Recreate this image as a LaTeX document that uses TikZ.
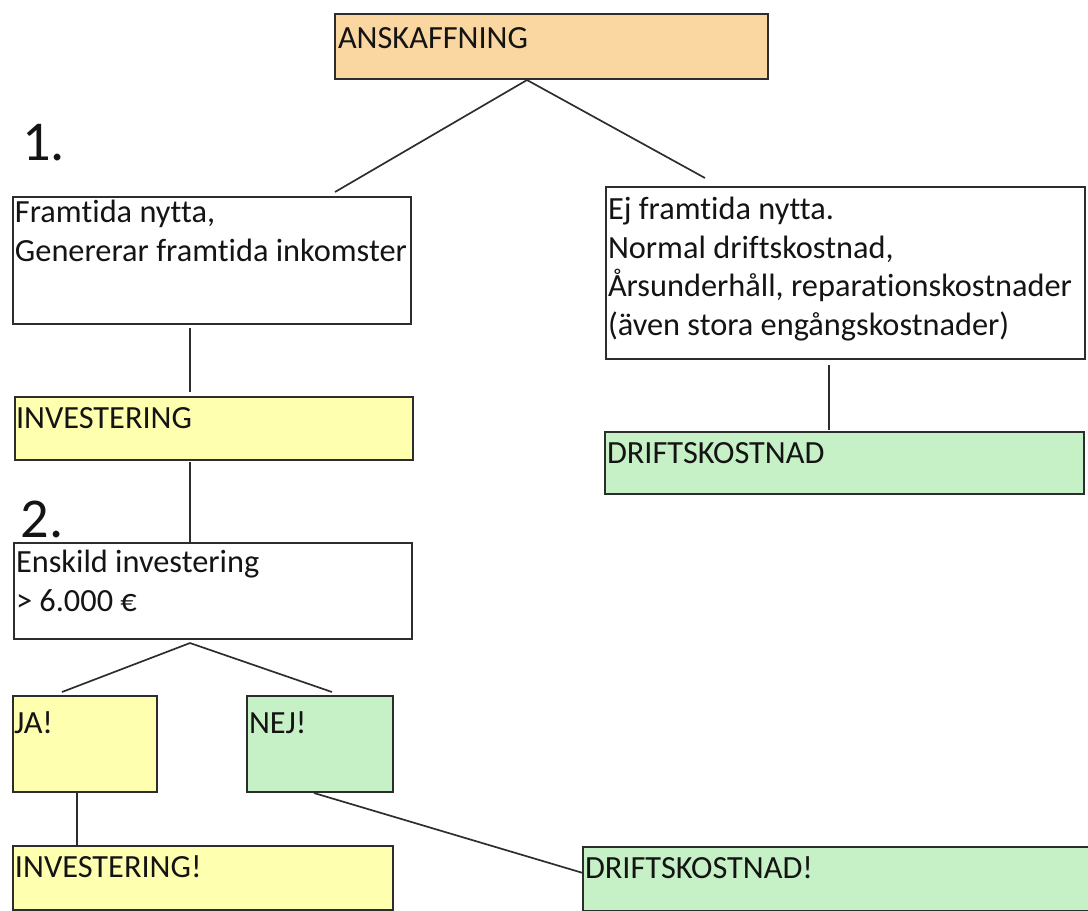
\documentclass[tikz,border=0pt]{standalone}
\usepackage{fontspec}
\setmainfont{Carlito}[Ligatures=NoCommon]
\usetikzlibrary{calc}
\definecolor{boxline}{RGB}{45,45,45}
\definecolor{orangefill}{RGB}{250,214,160}
\definecolor{yellowfill}{RGB}{255,255,176}
\definecolor{greenfill}{RGB}{198,240,198}
\definecolor{txtcol}{RGB}{20,20,20}
\tikzset{
  box/.style={draw=boxline, line width=1.1pt, inner sep=0pt, outer sep=0pt, anchor=north west},
  whitebox/.style={box, fill=white},
  orangebox/.style={box, fill=orangefill},
  yellowbox/.style={box, fill=yellowfill},
  greenbox/.style={box, fill=greenfill},
  txt/.style={inner sep=0pt, outer sep=0pt, text=txtcol, align=left, font=\fontsize{23}{27.5}\selectfont},
  bigtxt/.style={inner sep=0pt, outer sep=0pt, text=txtcol, font=\fontsize{40}{46}\selectfont},
  conn/.style={draw=boxline, line width=1.2pt}
}
\begin{document}
\begin{tikzpicture}[x=0.025cm, y=-0.025cm]
\useasboundingbox (0,0) rectangle (1088,910);
% boxes
\node[orangebox, minimum width=10.825cm, minimum height=1.625cm] (ansk) at (335,14) {};
\node[whitebox, minimum width=9.95cm, minimum height=3.175cm] (fram) at (13,197) {};
\node[whitebox, minimum width=11.975cm, minimum height=4.3cm] (ej) at (606,187) {};
\node[yellowbox, minimum width=9.95cm, minimum height=1.575cm] (inv) at (15,397) {};
\node[greenbox, minimum width=11.975cm, minimum height=1.55cm] (drift) at (605,432) {};
\node[whitebox, minimum width=9.95cm, minimum height=2.4cm] (ensk) at (14,543) {};
\node[yellowbox, minimum width=3.6cm, minimum height=2.4cm] (ja) at (13,696) {};
\node[greenbox, minimum width=3.65cm, minimum height=2.4cm] (nej) at (247,696) {};
\node[yellowbox, minimum width=9.5cm, minimum height=1.6cm] (inv2) at (13,846) {};
\node[greenbox, minimum width=12.75cm, minimum height=1.6cm] (drift2) at (583,847) {};
% texts
\node[txt, anchor=base west] (tansk) at (338,48) {ANSKAFFNING};
\node[txt, anchor=north west] (tfram) at (15,200) {Framtida nytta,\\Genererar framtida inkomster};
\node[txt, anchor=north west] (tej) at (608,197) {Ej framtida nytta.\\Normal driftskostnad,\\Årsunderhåll, reparationskostnader\\(även stora engångskostnader)};
\node[txt, anchor=base west] (tinv) at (16,428) {INVESTERING};
\node[txt, anchor=base west] (tdrift) at (607,463) {DRIFTSKOSTNAD};
\node[txt, anchor=north west] (tensk) at (16,550) {Enskild investering\\> 6.000 €};
\node[txt, anchor=base west] (tja) at (14,733) {JA!};
\node[txt, anchor=base west] (tnej) at (249,733) {NEJ!};
\node[txt, anchor=base west] (tinv2) at (15,877) {INVESTERING!};
\node[txt, anchor=base west] (tdrift2) at (585,878) {DRIFTSKOSTNAD!};
\node[bigtxt, anchor=base west] (one) at (22,160) {1.};
\node[bigtxt, anchor=base west] (two) at (21,537) {2.};
% connector end points
\coordinate (a0) at ($(ansk.south west)+(192,1)$);
\coordinate (a1) at ($(fram.north west)+(322,-5)$);
\coordinate (a2) at ($(ej.north west)+(99,-9)$);
\coordinate (f0) at ($(fram.south west)+(177,4)$);
\coordinate (f1) at ($(inv.north west)+(175,-5)$);
\coordinate (e0) at ($(ej.south west)+(223,6)$);
\coordinate (e1) at ($(drift.north west)+(224,-2)$);
\coordinate (i0) at ($(inv.south west)+(175,2)$);
\coordinate (i1) at ($(ensk.north west)+(176,0)$);
\coordinate (s0) at ($(ensk.south west)+(176,4)$);
\coordinate (s1) at ($(ja.north west)+(49,-4)$);
\coordinate (s2) at ($(nej.north west)+(85,-4)$);
\coordinate (j0) at ($(ja.south west)+(64,1)$);
\coordinate (j1) at ($(inv2.north west)+(64,-1)$);
\coordinate (n0) at ($(nej.south west)+(67,1)$);
\coordinate (n1) at ($(drift2.north west)+(0,26)$);
% connectors
\draw[conn] (a0) -- (a1);
\draw[conn] (a0) -- (a2);
\draw[conn] (f0) -- (f1);
\draw[conn] (e0) -- (e1);
\draw[conn] (i0) -- (i1);
\draw[conn] (s0) -- (s1);
\draw[conn] (s0) -- (s2);
\draw[conn] (j0) -- (j1);
\draw[conn] (n0) -- (n1);
\end{tikzpicture}
\end{document}
